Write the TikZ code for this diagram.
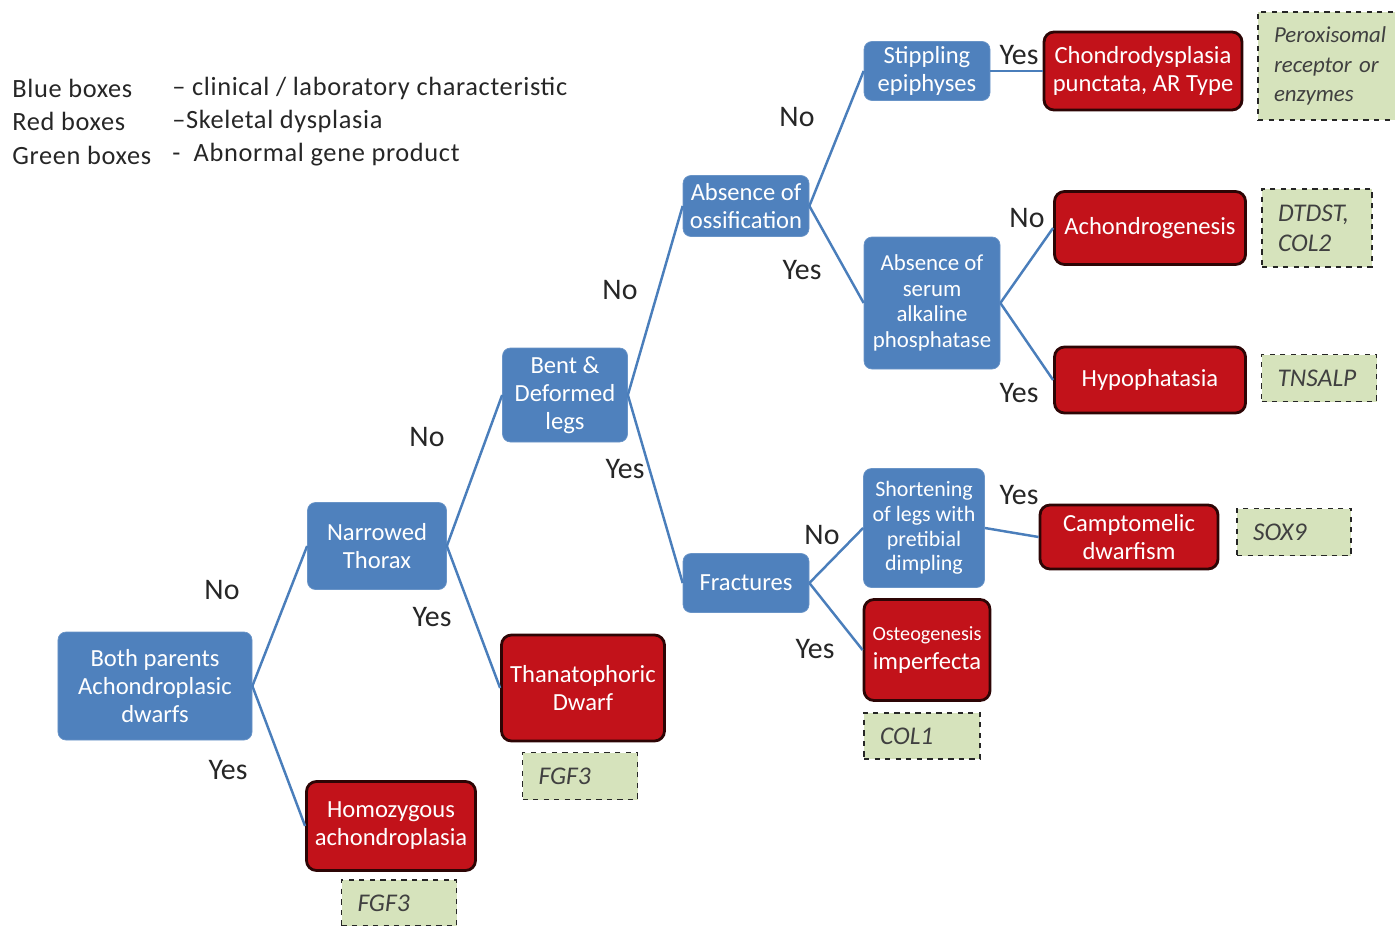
\documentclass[tikz,border=0pt]{standalone}
\usepackage{fontspec}
\setmainfont{Carlito}
\usepackage{tikz}
\usetikzlibrary{positioning}

\definecolor{boxblue}{RGB}{79,129,189}
\definecolor{boxred}{RGB}{194,18,26}
\definecolor{boxredline}{RGB}{45,5,5}
\definecolor{genegreen}{RGB}{214,227,188}
\definecolor{linkblue}{RGB}{74,126,187}

\tikzset{
  bluebox/.style={fill=boxblue, draw=boxblue!85!white, rounded corners=1.6mm, text=white, align=center,
    font=\fontsize{14}{16}\selectfont, inner sep=1pt},
  redbox/.style={fill=boxred, draw=boxredline, line width=1.6pt, rounded corners=2mm, text=white, align=center,
    font=\fontsize{14}{16}\selectfont, inner sep=1pt},
  genebox/.style={fill=genegreen, draw=black!85, dashed, line width=0.9pt, text=black!75, align=left,
    font=\itshape\fontsize{14.5}{17}\selectfont, inner xsep=3.2mm, inner ysep=1pt},
  link/.style={draw=linkblue, line width=1.4pt},
  answer/.style={font=\fontsize{17}{20}\selectfont, text=black!85, inner sep=0pt},
  legend/.style={anchor=west, font=\fontsize{15}{18}\selectfont\addfontfeatures{LetterSpace=2.5}, text=black!85, inner sep=0pt}
}

\begin{document}
\begin{tikzpicture}[x=0.2mm,y=-0.2mm]
\useasboundingbox (0,0) rectangle (1395,925);

%Legend
\node[legend] (keyblue) at (12,88) {Blue boxes};
\node[legend] (keybluetext) at (172,88) {– clinical / laboratory characteristic};
\node[legend] (keyred) at (12,121) {Red boxes};
\node[legend] (keyredtext) at (172,121) {–Skeletal dysplasia};
\node[legend] (keygreen) at (12,155) {Green boxes};
\node[legend] (keygreentext) at (172,155) {-\ \ Abnormal gene product};

%Clinical characteristics
\node[bluebox, minimum width=38.8mm, minimum height=21.6mm] (parents) at (155,686) {Both parents\\Achondroplasic\\dwarfs};
\node[bluebox, minimum width=27.8mm, minimum height=17.4mm] (thorax) at (377,546) {Narrowed\\Thorax};
\node[bluebox, minimum width=25mm, minimum height=18.8mm] (bent) at (565,395) {Bent \&\\Deformed\\legs};
\node[bluebox, minimum width=25.2mm, minimum height=12.2mm] (ossif) at (746,206) {Absence of\\ossification};
\node[bluebox, minimum width=25.2mm, minimum height=11.8mm] (stipple) at (927,71) {Stippling\\epiphyses};
\node[bluebox, minimum width=27.2mm, minimum height=26.4mm, font=\fontsize{13}{14.5}\selectfont] (serum) at (932,303) {Absence of\\serum\\alkaline\\phosphatase};
\node[bluebox, minimum width=25.2mm, minimum height=11.8mm] (fract) at (746,583) {Fractures};
\node[bluebox, minimum width=24.2mm, minimum height=23.8mm, font=\fontsize{12.5}{14}\selectfont] (shorten) at (924,528) {Shortening\\of legs with\\pretibial\\dimpling};

%Skeletal dysplasias
\node[redbox, minimum width=33.8mm, minimum height=17.8mm] (homo) at (391,826) {Homozygous\\achondroplasia};
\node[redbox, minimum width=32.6mm, minimum height=21.2mm] (thanato) at (583,688) {Thanatophoric\\Dwarf};
\node[redbox, minimum width=39.6mm, minimum height=15.6mm] (chondro) at (1143,71) {Chondrodysplasia\\punctata, AR Type};
\node[redbox, minimum width=38.2mm, minimum height=14.6mm] (achondro) at (1150,228) {Achondrogenesis};
\node[redbox, minimum width=38.2mm, minimum height=13.2mm] (hypo) at (1150,380) {Hypophatasia};
\node[redbox, minimum width=35.6mm, minimum height=12.8mm] (campto) at (1129,537) {Camptomelic\\dwarfism};
\node[redbox, minimum width=25.2mm, minimum height=20.2mm] (osteo) at (927,650) {{\fontsize{11.5}{14}\selectfont Osteogenesis}\\imperfecta};

%Gene products
\node[genebox, text width=21.6mm, minimum height=21.6mm, font=\itshape\fontsize{13}{17}\selectfont] (geneperox) at (1328,66) {Peroxisomal\\receptor or\\enzymes};
\node[genebox, text width=15.6mm, minimum height=15.6mm] (genedtdst) at (1317,228) {DTDST,\\COL2};
\node[genebox, text width=16.6mm, minimum height=9.4mm] (genetnsalp) at (1319,378) {TNSALP};
\node[genebox, text width=16.4mm, minimum height=9.4mm] (genesox) at (1294,532) {SOX9};
\node[genebox, text width=16.8mm, minimum height=9.2mm] (genecol) at (922,736) {COL1};
\node[genebox, text width=16.6mm, minimum height=9.4mm] (genefgfa) at (580,776) {FGF3};
\node[genebox, text width=16.6mm, minimum height=9.2mm] (genefgfb) at (399,903) {FGF3};

%Branches
\draw[link] (parents.east) -- (thorax.west);
\draw[link] (parents.east) -- (homo.west);
\draw[link] (thorax.east) -- (bent.west);
\draw[link] (thorax.east) -- (thanato.west);
\draw[link] (bent.east) -- (ossif.west);
\draw[link] (bent.east) -- (fract.west);
\draw[link] (ossif.east) -- (stipple.west);
\draw[link] (ossif.east) -- (serum.west);
\draw[link] (stipple.east) -- (chondro.west);
\draw[link] (serum.east) -- (achondro.west);
\draw[link] (serum.east) -- (hypo.west);
\draw[link] (fract.east) -- (shorten.west);
\draw[link] (fract.east) -- (osteo.west);
\draw[link] (shorten.east) -- (campto.west);

%Answers
\node[answer] (no1) at (222,590) {No};
\node[answer] (yes1) at (228,770) {Yes};
\node[answer] (no2) at (427,437) {No};
\node[answer] (yes2) at (432,617) {Yes};
\node[answer] (no3) at (620,290) {No};
\node[answer] (yes3) at (625,469) {Yes};
\node[answer] (no4) at (797,117) {No};
\node[answer] (yes4) at (802,270) {Yes};
\node[answer] (yes5) at (1019,55) {Yes};
\node[answer] (no6) at (1027,218) {No};
\node[answer] (yes6) at (1019,393) {Yes};
\node[answer] (no7) at (822,535) {No};
\node[answer] (yes7) at (815,649) {Yes};
\node[answer] (yes8) at (1019,495) {Yes};

\end{tikzpicture}
\end{document}
